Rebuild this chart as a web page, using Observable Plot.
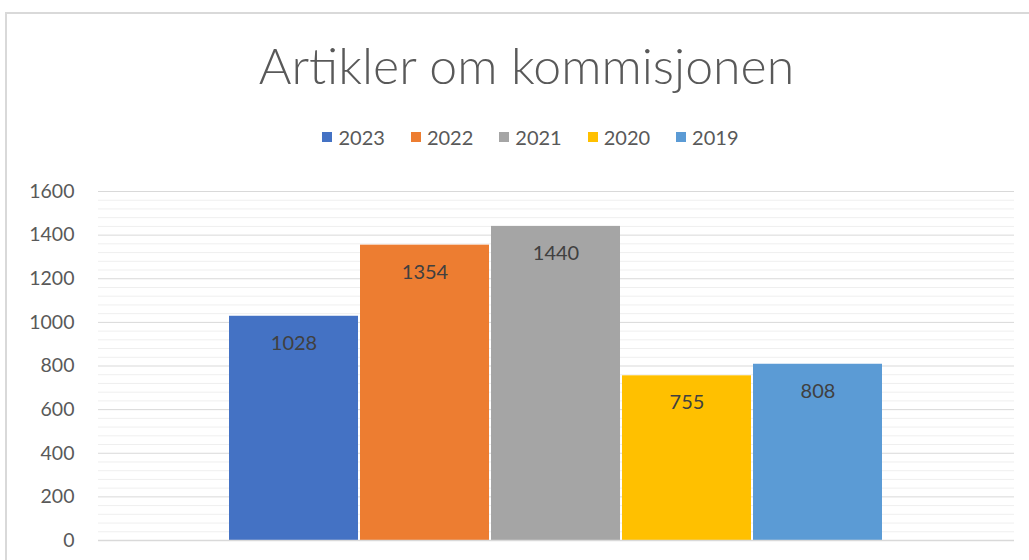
<!DOCTYPE html>
<html>
<head>
<meta charset="utf-8">
<script src="https://cdn.jsdelivr.net/npm/d3@7"></script>
<script src="https://cdn.jsdelivr.net/npm/@observablehq/plot@0.6"></script>
<style>
  html, body { margin: 0; padding: 0; background: #fff; overflow: hidden; }
  body { font-family: Lato, "Open Sans", sans-serif; }
  #frame { position: absolute; left: 5px; top: 12px; width: 1040px; height: 560px; border: 2px solid #d9d9d9; box-sizing: border-box; pointer-events: none; }
  #wrap { position: relative; width: 1029px; height: 560px; }
  #title { height: 110px; text-align: center; font-weight: 300; font-size: 50px; color: #595959; line-height: 1; padding-top: 40px; box-sizing: border-box; padding-left: 24px; }
  #legend { height: 50px; display: flex; justify-content: center; align-items: flex-start; padding-left: 58px; box-sizing: border-box; padding-top: 15px; font-size: 20px; color: #595959; }
  .item { display: flex; align-items: center; margin-right: 26px; }
  .sw { width: 10px; height: 10px; margin-right: 6px; }
</style>
</head>
<body>
<div id="wrap">
  <div id="frame"></div>
  <div id="title">Artikler om kommisjonen</div>
  <div id="legend"></div>
  <div id="chart"></div>
</div>
<script>
const years = ["2023", "2022", "2021", "2020", "2019"];
const values = [1028, 1354, 1440, 755, 808];
const colors = ["#4472C4", "#ED7D31", "#A5A5A5", "#FFC000", "#5B9BD5"];
const yTicks = [0, 200, 400, 600, 800, 1000, 1200, 1400, 1600];

const data = years.map((y, i) => ({year: y, value: values[i]}));

const legend = document.getElementById("legend");
years.forEach((y, i) => {
  const it = document.createElement("div");
  it.className = "item";
  const sw = document.createElement("span");
  sw.className = "sw";
  sw.style.background = colors[i];
  const t = document.createElement("span");
  t.textContent = y;
  it.appendChild(sw); it.appendChild(t);
  legend.appendChild(it);
});

const minor = d3.range(0, 1601, 40).filter(v => v % 200 !== 0);

const chart = Plot.plot({
  width: 1029,
  height: 400,
  marginTop: 31,
  marginBottom: 20,
  marginLeft: 98,
  marginRight: 15,
  style: {fontFamily: "Lato, 'Open Sans', sans-serif", fontSize: "19.5px", color: "#595959", background: "transparent"},
  x: {domain: years, paddingInner: 0.015, paddingOuter: 1, axis: null},
  y: {domain: [0, 1600], ticks: yTicks, tickFormat: d => String(d), tickSize: 0, tickPadding: 24, label: null},
  color: {domain: years, range: colors},
  marks: [
    Plot.ruleY(minor, {stroke: "#efefef", strokeWidth: 1}),
    Plot.ruleY(yTicks.filter(v => v > 0), {stroke: "#d9d9d9", strokeWidth: 1}),
    Plot.barY(data, {x: "year", y: "value", fill: "year"}),
    Plot.ruleY([0], {stroke: "#d9d9d9", strokeWidth: 1.5}),
    Plot.text(data, {x: "year", y: "value", text: d => String(d.value), dy: 27, fill: "#404040", fontSize: 20})
  ]
});
document.getElementById("chart").appendChild(chart);
</script>
</body>
</html>
